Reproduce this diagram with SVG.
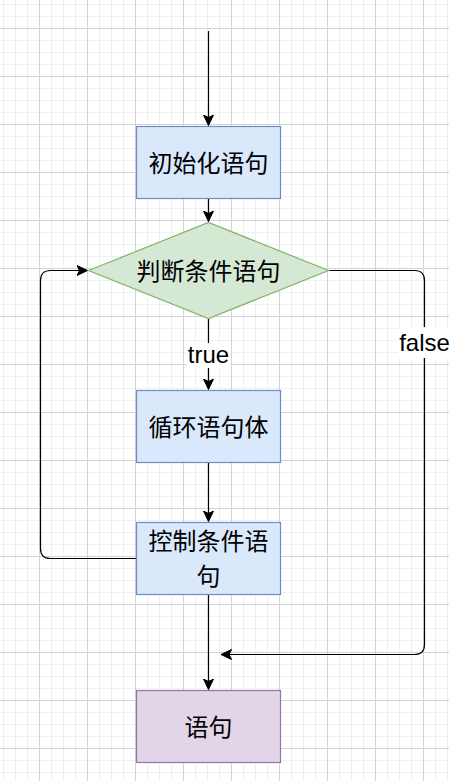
<svg xmlns="http://www.w3.org/2000/svg" width="449" height="781" viewBox="0 0 449 781">
<style>
.box{stroke-width:1.2}
.blue{fill:#dae8fc;stroke:#6c8ebf}
.green{fill:#d5e8d4;stroke:#82b366}
.purple{fill:#e1d5e7;stroke:#9673a6}
.t{font-family:"Noto Sans CJK SC","Microsoft YaHei",sans-serif;font-size:24px;fill:#000;text-anchor:middle}
.lbl{font-family:"Liberation Sans",Arial,sans-serif;font-size:24px;fill:#000;text-anchor:middle}
.edge{fill:none;stroke:#000;stroke-width:1.2}
</style>
<defs>
<pattern id="minor" patternUnits="userSpaceOnUse" x="3" y="4" width="12" height="12">
<path d="M0.5,0V12M0,0.5H12" stroke="#f0f0f0" stroke-width="1" fill="none"/>
</pattern>
<pattern id="major" patternUnits="userSpaceOnUse" x="39" y="28" width="48" height="48">
<path d="M0.5,0V48M0,0.5H48" stroke="#d4d4d4" stroke-width="1" fill="none"/>
</pattern>
<marker id="arr" markerUnits="userSpaceOnUse" viewBox="-11 -6 12 12" refX="0" refY="0" markerWidth="12" markerHeight="12" orient="auto">
<path d="M0,0L-10.5,-5L-8,0L-10.5,5Z" fill="#000" stroke="#000" stroke-width="1"/>
</marker>
</defs>
<rect width="449" height="781" fill="#fff"/>
<rect width="449" height="781" fill="url(#minor)"/>
<rect width="449" height="781" fill="url(#major)"/>

<g id="connectors">
<path class="edge" d="M208.5,31V125.5" marker-end="url(#arr)"/>
<path class="edge" d="M208.5,198.5V221.5" marker-end="url(#arr)"/>
<path class="edge" d="M208.5,318.5V389.5" marker-end="url(#arr)"/>
<path class="edge" d="M208.5,462.5V521.5" marker-end="url(#arr)"/>
<path class="edge" d="M208.5,594.5V689.5" marker-end="url(#arr)"/>
<path class="edge" d="M136.5,558.5H50.5Q40.5,558.5 40.5,548.5V280.5Q40.5,270.5 50.5,270.5H87.5" marker-end="url(#arr)"/>
<path class="edge" d="M328.5,270.5H414.5Q424.5,270.5 424.5,280.5V644.5Q424.5,654.5 414.5,654.5H221" marker-end="url(#arr)"/>
<g id="label-true">
<rect x="187" y="343" width="43" height="25" fill="#fff"/>
<text class="lbl" x="208.5" y="363">true</text>
</g>
<g id="label-false">
<rect x="399" y="327" width="51" height="31" fill="#fff"/>
<text class="lbl" x="424.5" y="351">false</text>
</g>
</g>

<g id="init">
<rect class="box blue" x="136.5" y="126.5" width="144" height="72"/>
<text class="t" x="208.5" y="171.5">初始化语句</text>
</g>
<g id="cond">
<path class="box green" d="M88.5,270.5L208.5,222.5L328.5,270.5L208.5,318.5Z"/>
<text class="t" x="208.5" y="280">判断条件语句</text>
</g>
<g id="body">
<rect class="box blue" x="136.5" y="390.5" width="144" height="72"/>
<text class="t" x="208.5" y="435.5">循环语句体</text>
</g>
<g id="ctrl">
<rect class="box blue" x="136.5" y="522.5" width="144" height="72"/>
<text class="t" x="208.5" y="550"><tspan x="208.5" y="550">控制条件语</tspan><tspan x="208.5" y="585">句</tspan></text>
</g>
<g id="stmt">
<rect class="box purple" x="136.5" y="690.5" width="144" height="72"/>
<text class="t" x="208.5" y="735.5">语句</text>
</g>
</svg>
